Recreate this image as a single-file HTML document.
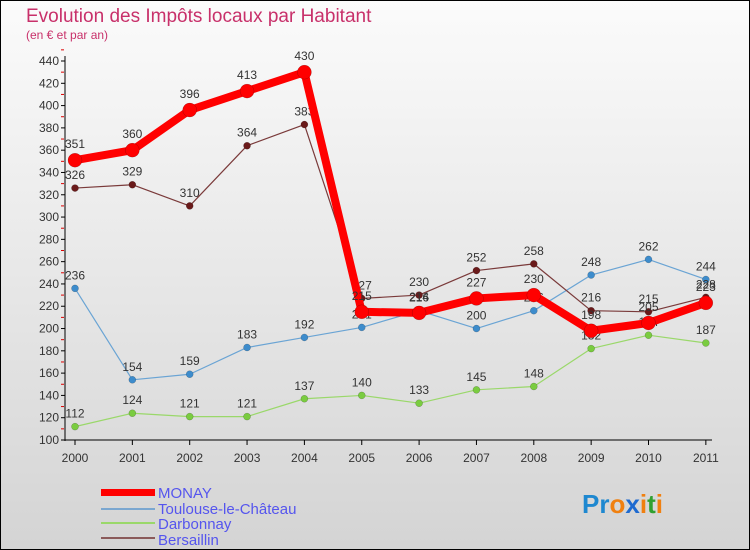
<!DOCTYPE html>
<html><head><meta charset="utf-8"><style>
body{margin:0}
#wrap{width:750px;height:550px;position:relative;box-sizing:border-box;border:1px solid #000;background:linear-gradient(#fbfbfb,#d4d4d4);font-family:"Liberation Sans",sans-serif;overflow:hidden}
</style></head><body>
<div id="wrap">
<svg id="svg" width="750" height="550" style="position:absolute;left:-1px;top:-1px">
<text x="26" y="22" font-size="19" fill="#c8306a">Evolution des Impôts locaux par Habitant</text>
<text x="26" y="39" font-size="12" fill="#c8306a">(en € et par an)</text>
<g id="axes"></g><g id="series"></g>
<g>
<rect x="101" y="489" width="54" height="7" fill="#f00"/>
<line x1="101" y1="509" x2="155" y2="509" stroke="#7ba7d0" stroke-width="2"/>
<line x1="101" y1="523" x2="155" y2="523" stroke="#9ad86a" stroke-width="2"/>
<line x1="101" y1="538" x2="155" y2="538" stroke="#8a5a5a" stroke-width="2"/>
<text x="158" y="498" font-size="15" fill="#5555ee">MONAY</text>
<text x="158" y="514" font-size="15" fill="#5555ee">Toulouse-le-Château</text>
<text x="158" y="529" font-size="15" fill="#5555ee">Darbonnay</text>
<text x="158" y="545" font-size="15" fill="#5555ee">Bersaillin</text>
</g>
<text x="582" y="513" font-size="26" font-weight="bold"><tspan fill="#1e88d0">Pr</tspan><tspan fill="#f08010">o</tspan><tspan fill="#1e6ad0">x</tspan><tspan fill="#f08010">i</tspan><tspan fill="#30a030">t</tspan><tspan fill="#f08010">i</tspan></text>
</svg>
</div>
<script>
const years=["2000","2001","2002","2003","2004","2005","2006","2007","2008","2009","2010","2011"];
const yTicks=[100,120,140,160,180,200,220,240,260,280,300,320,340,360,380,400,420,440];
const monay=[351,360,396,413,430,215,214,227,230,198,205,223];
const toulouse=[236,154,159,183,192,201,216,200,216,248,262,244];
const darbonnay=[112,124,121,121,137,140,133,145,148,182,194,187];
const bersaillin=[326,329,310,364,383,227,230,252,258,216,215,228];
const NS="http://www.w3.org/2000/svg";
function X(i){return 75+i*57.35;}
function Y(v){return 440-(v-100)*379/340;}
function mk(t,a,p){const e=document.createElementNS(NS,t);for(const k in a)e.setAttribute(k,a[k]);p.appendChild(e);return e;}
const ax=document.getElementById('axes');
const yl=mk('line',{x1:65,y1:56,x2:65,y2:441,stroke:'#000'},ax);


const xl=mk('line',{x1:65,y1:440,x2:712,y2:440,stroke:'#000'},ax);


yTicks.forEach(v=>{
 mk('line',{x1:61,y1:Y(v),x2:65,y2:Y(v),stroke:'#000'},ax);
 mk('line',{x1:61,y1:Y(v+10),x2:64,y2:Y(v+10),stroke:'#d00'},ax);
 const t=mk('text',{x:59,y:Y(v)+4,'font-size':12,'text-anchor':'end',fill:'#333'},ax);t.textContent=v;
 
 
});
years.forEach((y,i)=>{
 mk('line',{x1:X(i),y1:440,x2:X(i),y2:445,stroke:'#000'},ax);
 const t=mk('text',{x:X(i),y:462,'font-size':12,'text-anchor':'middle',fill:'#333'},ax);t.textContent=y;
 
 
});
const sg=document.getElementById('series');
function series(data,color,dot,w,r,name){
 const g=mk('g',{},sg);
 
 
 mk('polyline',{points:data.map((v,i)=>X(i)+','+Y(v)).join(' '),fill:'none',stroke:color,'stroke-width':w,'stroke-linejoin':'round'},g);
 data.forEach((v,i)=>{
  const c=mk('circle',{cx:X(i),cy:Y(v),r:r,fill:dot,stroke:'rgba(0,0,0,0.3)','stroke-width':0.5},g);
  
  
  const t=mk('text',{x:X(i),y:Y(v)-9-(r>5?3:0),'font-size':12,'text-anchor':'middle',fill:'#333'},g);t.textContent=v;
  
  
 });
}
series(darbonnay,'#9ad86a','#7acc40',1.2,3.5,'series-darbonnay');
series(toulouse,'#6aa4d4','#3d8ccc',1.2,3.5,'series-toulouse');
series(bersaillin,'#7a3a3a','#6a1a1a',1.2,3.5,'series-bersaillin');
series(monay,'#f00','#f00',8,7,'series-monay');
</script>
</body></html>
